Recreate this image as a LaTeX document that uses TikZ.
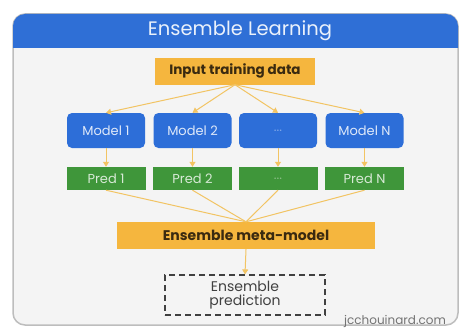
\documentclass[tikz,border=0pt]{standalone}
\usepackage{fontspec}
\setmainfont{Poppins}
\usetikzlibrary{arrows.meta}
\definecolor{hblue}{HTML}{2F6FD6}
\definecolor{mblue}{HTML}{2D6ED8}
\definecolor{pgreen}{HTML}{3F963A}
\definecolor{orng}{HTML}{F5B63E}
\definecolor{arrc}{HTML}{F2C463}
\definecolor{bgc}{HTML}{F4F4F4}
\definecolor{framec}{HTML}{BDBDBD}
\definecolor{txtd}{HTML}{3A2A10}
\tikzset{
  modelbox/.style={fill=mblue, rounded corners=5pt, minimum width=78pt, minimum height=35pt, inner sep=0pt, text=white!85!mblue, font=\fontsize{13}{14}\selectfont},
  predbox/.style={fill=pgreen, minimum width=79pt, minimum height=23pt, inner sep=0pt, text=white!80!pgreen, font=\fontsize{13}{14}\selectfont},
  orangebox/.style={fill=orng, inner sep=0pt, text=txtd, font=\bfseries\fontsize{13.5}{15}\selectfont},
  conn/.style={draw=arrc, line width=1pt},
  arr/.style={conn, -{Triangle[length=5pt,width=6pt]}}
}
\begin{document}
\begin{tikzpicture}[x=1pt,y=-1pt]
\useasboundingbox (0,0) rectangle (465,329);
\fill[white] (0,0) rectangle (465,329);
% frame
\draw[fill=bgc, draw=framec, line width=1.5pt, rounded corners=12pt] (13,14) rectangle (458,325);
\fill[hblue] (13,48) [rounded corners=12pt] -- (13,14) -- (458,14) [sharp corners] -- (458,48) -- cycle;
\node[text=white!90!hblue, font=\fontsize{19.5}{22}\selectfont] (title) at (240,31) {Ensemble Learning};
% input
\node[orangebox, minimum width=160pt, minimum height=27pt] (input) at (235,71) {Input training data};
% models
\node[modelbox] (m1) at (106,130.5) {Model 1};
\node[modelbox] (m2) at (192.5,130.5) {Model 2};
\node[modelbox, text=mblue!60!white] (m3) at (278,130.5) {...};
\node[modelbox] (m4) at (364.5,130.5) {Model N};
% preds
\node[predbox] (p1) at (106,178.5) {Pred 1};
\node[predbox] (p2) at (192.5,178.5) {Pred 2};
\node[predbox, text=pgreen!60!white] (p3) at (278,178.5) {...};
\node[predbox] (p4) at (364.5,178.5) {Pred N};
% meta
\node[orangebox, minimum width=258pt, minimum height=27pt, font=\bfseries\fontsize{14}{16}\selectfont] (meta) at (246,235.5) {Ensemble meta-model};
% final
\node[draw=black!75, dashed, dash pattern=on 6pt off 4pt, line width=1.2pt, minimum width=160pt, minimum height=40pt, inner sep=0pt, align=center, text=black!75, font=\fontsize{14}{14}\selectfont] (final) at (245,295) {Ensemble\\prediction};
% connectors
\foreach \m in {m1,m2,m3,m4} \draw[arr] (input.south) -- (\m.north);
\draw[arr] (m1.south) -- (p1.north);
\draw[arr] (m2.south) -- (p2.north);
\draw[arr] (m3.south) -- (p3.north);
\draw[arr] (m4.south) -- (p4.north);
\foreach \p in {p1,p2,p3,p4} \draw[conn] (\p.south) -- (meta.north);
\draw[arr] (meta.south) -- (final.north);
% watermark
\node[text=black!55, font=\fontsize{12}{13}\selectfont, anchor=center] (wm) at (395,321) {jcchouinard.com};
\end{tikzpicture}
\end{document}
